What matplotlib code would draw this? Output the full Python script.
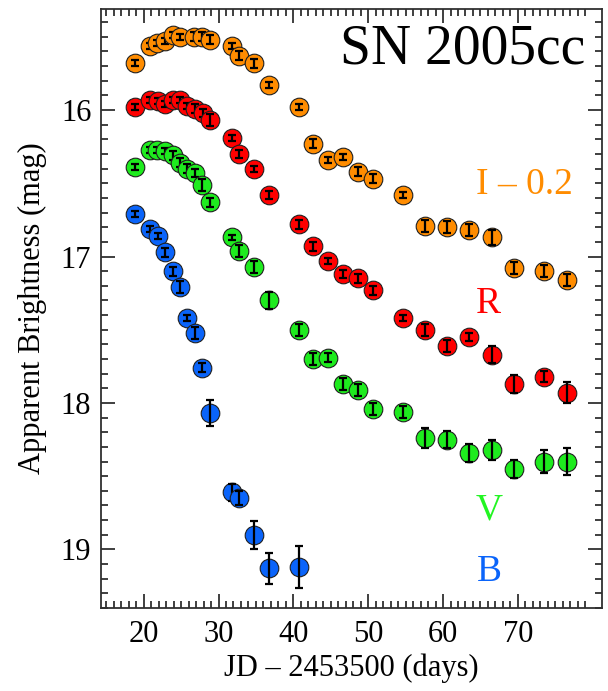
import matplotlib
matplotlib.use("Agg")
import matplotlib.pyplot as plt
from matplotlib.ticker import MultipleLocator, FixedLocator

plt.rcParams['font.family'] = ['Liberation Serif', 'DejaVu Serif']

# ---- data (JD - 2453500, magnitude, error) ----
I_t = [18.87, 20.87, 21.84, 22.87, 23.89, 24.87, 26.77, 27.76, 28.87, 31.84, 32.77, 34.77,
       36.73, 40.73, 42.64, 44.64, 46.64, 48.64, 50.64, 54.64, 57.60, 60.56, 63.53, 66.51,
       69.53, 73.53, 76.56]
I_m = [15.68, 15.56, 15.54, 15.53, 15.49, 15.50, 15.50, 15.50, 15.52, 15.56, 15.63, 15.68,
       15.83, 15.98, 16.23, 16.34, 16.32, 16.42, 16.47, 16.58, 16.79, 16.80, 16.82, 16.87,
       17.08, 17.10, 17.16]
I_e = [0.02, 0.02, 0.02, 0.02, 0.02, 0.02, 0.03, 0.03, 0.03, 0.02, 0.03, 0.03,
       0.02, 0.02, 0.03, 0.02, 0.02, 0.03, 0.03, 0.02, 0.04, 0.04, 0.04, 0.05,
       0.04, 0.04, 0.04]

R_t = [18.87, 20.87, 21.97, 22.87, 23.89, 24.87, 25.84, 26.87, 27.89, 28.87, 31.84, 32.77,
       34.77, 36.73, 40.73, 42.64, 44.64, 46.64, 48.64, 50.64, 54.64, 57.60, 60.56, 63.53,
       66.51, 69.53, 73.53, 76.56]
R_m = [15.98, 15.93, 15.94, 15.96, 15.93, 15.93, 15.97, 15.99, 16.02, 16.07, 16.19, 16.30,
       16.40, 16.58, 16.78, 16.93, 17.03, 17.12, 17.15, 17.23, 17.42, 17.50, 17.61, 17.55,
       17.67, 17.87, 17.82, 17.93]
R_e = [0.02, 0.02, 0.02, 0.02, 0.02, 0.02, 0.02, 0.03, 0.03, 0.04, 0.02, 0.03,
       0.02, 0.03, 0.03, 0.03, 0.02, 0.03, 0.03, 0.03, 0.02, 0.04, 0.04, 0.03,
       0.06, 0.06, 0.04, 0.07]

V_t = [18.87, 20.87, 21.84, 22.87, 23.89, 24.87, 25.84, 26.87, 27.76, 28.87, 31.84, 32.77,
       34.77, 36.73, 40.73, 42.64, 44.64, 46.64, 48.64, 50.64, 54.64, 57.60, 60.56, 63.53,
       66.51, 69.53, 73.53, 76.56]
V_m = [16.39, 16.27, 16.27, 16.28, 16.31, 16.36, 16.40, 16.43, 16.51, 16.63, 16.87, 16.96,
       17.07, 17.30, 17.50, 17.70, 17.69, 17.87, 17.91, 18.04, 18.06, 18.24, 18.25, 18.34,
       18.32, 18.45, 18.40, 18.40]
V_e = [0.02, 0.02, 0.02, 0.02, 0.03, 0.03, 0.03, 0.03, 0.04, 0.03, 0.02, 0.04,
       0.04, 0.06, 0.04, 0.04, 0.03, 0.04, 0.04, 0.04, 0.04, 0.07, 0.06, 0.06,
       0.07, 0.06, 0.08, 0.09]

B_t = [18.87, 20.87, 21.97, 22.87, 23.89, 24.87, 25.84, 26.87, 27.84, 28.87, 31.76, 32.77,
       34.77, 36.73, 40.73]
B_m = [16.71, 16.81, 16.86, 16.97, 17.10, 17.21, 17.42, 17.52, 17.76, 18.07, 18.61, 18.65,
       18.90, 19.13, 19.12]
B_e = [0.02, 0.02, 0.02, 0.03, 0.03, 0.04, 0.02, 0.04, 0.03, 0.09, 0.06, 0.05,
       0.095, 0.108, 0.142]

x_major = [20, 30, 40, 50, 60, 70]
x_minor = list(range(15, 80))

bands = [
    (B_t, B_m, B_e, '#0A64FA'),
    (V_t, V_m, V_e, '#1EEB1E'),
    (R_t, R_m, R_e, '#FF0000'),
    (I_t, I_m, I_e, '#FF8C00'),
]

fig = plt.figure(figsize=(6.08, 6.91), dpi=100)
ax = fig.add_axes([101/608, 1-608/691, 500.7/608, 599/691])

z = 2
for t, m, e, c in bands:
    for ti, mi, ei in zip(t, m, e):
        ax.plot([ti], [mi], 'o', ms=13.4, mfc=c, mec='#202020', mew=0.8, zorder=z)
        ax.errorbar([ti], [mi], yerr=[ei], fmt='none', ecolor='black', elinewidth=1.6,
                    capsize=2.6, capthick=1.6, zorder=z + 0.5)
        z += 1

ax.set_xlim(14.3, 81.2)
ax.set_ylim(19.4, 15.31)

ax.xaxis.set_major_locator(FixedLocator(x_major))
ax.xaxis.set_minor_locator(FixedLocator([v for v in x_minor if v not in x_major]))
ax.yaxis.set_major_locator(MultipleLocator(1))
ax.yaxis.set_minor_locator(MultipleLocator(0.1))
ax.tick_params(which='both', direction='in', top=True, right=True, width=1.3, color='#303030')
ax.tick_params(which='major', length=10, labelsize=22, pad=7)
ax.tick_params(which='minor', length=5)
ax.tick_params(axis='x', which='major', pad=9)
for s in ax.spines.values():
    s.set_linewidth(1.3)
    s.set_color('#303030')

ax.set_xlabel('JD \u2013 2453500 (days)', fontsize=22, labelpad=3)
ax.set_ylabel('Apparent Brightness (mag)', fontsize=22, labelpad=10)

ax.text(0.967, 0.932, 'SN 2005cc', transform=ax.transAxes, ha='right', va='center',
        fontsize=40, color='black')
ax.text(70.9, 16.51, 'I \u2013 0.2', ha='center', va='center', fontsize=27, color='#FF8C00')
ax.text(66.1, 17.32, 'R', ha='center', va='center', fontsize=27, color='#FF0000')
ax.text(66.2, 18.73, 'V', ha='center', va='center', fontsize=27, color='#22F522')
ax.text(66.2, 19.15, 'B', ha='center', va='center', fontsize=27, color='#0A64FA')

fig.savefig('out.png', dpi=100)
